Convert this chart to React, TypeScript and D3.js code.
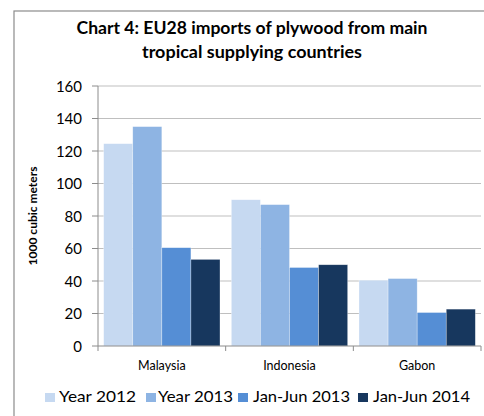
import React from "react";
import * as d3 from "d3";

const categories = ["Malaysia", "Indonesia", "Gabon"];
const seriesNames = ["Year 2012", "Year 2013", "Jan-Jun 2013", "Jan-Jun 2014"];
const year2012 = [124.5, 90, 40.5];
const year2013 = [135, 87, 41.5];
const janJun2013 = [60.5, 48.3, 20.6];
const janJun2014 = [53.3, 50, 22.7];
const yTicks = [0, 20, 40, 60, 80, 100, 120, 140, 160];
const colors = ["#C6D9F1", "#8EB4E3", "#558ED5", "#17375E"];

const seriesValues = [year2012, year2013, janJun2013, janJun2014];

export default function App() {
  const W = 484, H = 416;
  const left = 98, right = 481, top = 86, bottom = 346;
  const font = "Lato, 'Open Sans', sans-serif";

  const x = d3.scaleBand<string>().domain(categories).range([left, right]).paddingInner(0).paddingOuter(0);
  const inner = d3.scaleBand<string>().domain(seriesNames).range([0, x.bandwidth()]).paddingInner(0).paddingOuter(0.195);
  const y = d3.scaleLinear().domain([0, 160]).range([bottom, top]);

  const legendMarkX = [45, 146, 238, 358];
  const legendTextX = [59, 158, 253, 373];
  const legendW = [77, 75, 97, 97];

  return (
    <svg width={W} height={H} style={{ position: "absolute", left: 0, top: 0 }} fontFamily={font}>
      <rect x={0} y={0} width={W} height={H} fill="#fff" />
      <rect x={14} y={11} width={W + 20} height={H + 20} fill="none" stroke="#8c8c8c" strokeWidth={1.2} />
      <text x={252} y={34} textAnchor="middle" fontWeight="bold" fontSize={16.5} textLength={351} lengthAdjust="spacingAndGlyphs" fill="#000">
        Chart 4: EU28 imports of plywood from main
      </text>
      <text x={252} y={58} textAnchor="middle" fontWeight="bold" fontSize={16.5} textLength={220} lengthAdjust="spacingAndGlyphs" fill="#000">
        tropical supplying countries
      </text>
      {yTicks.map((t) => (
        <g key={t}>
          {t > 0 && <line x1={left} x2={right} y1={y(t)} y2={y(t)} stroke="#bfbfbf" strokeWidth={1} />}
          <line x1={92} x2={left} y1={y(t)} y2={y(t)} stroke="#8c8c8c" strokeWidth={1} />
          <text x={82} y={y(t) + 5.5} textAnchor="end" fontSize={15} fill="#000">{t}</text>
        </g>
      ))}
      <text transform={`translate(37,${(top + bottom) / 2}) rotate(-90)`} textAnchor="middle" fontWeight="bold" fontSize={12} fill="#000">
        1000 cubic meters
      </text>
      {categories.map((c, ci) => (
        <g key={c}>
          {seriesNames.map((s, si) => {
            const v = seriesValues[si][ci];
            return (
              <rect key={s} x={(x(c) as number) + (inner(s) as number)} y={y(v)} width={inner.bandwidth()} height={y(0) - y(v)} fill={colors[si]} stroke="#ffffff" strokeOpacity={0.5} strokeWidth={0.6} />
            );
          })}
          <text x={(x(c) as number) + x.bandwidth() / 2} y={370} textAnchor="middle" fontSize={12.5} fill="#000">{c}</text>
        </g>
      ))}
      <line x1={left} x2={left} y1={top} y2={bottom} stroke="#8c8c8c" strokeWidth={1} />
      <line x1={left} x2={right} y1={bottom} y2={bottom} stroke="#8c8c8c" strokeWidth={1} />
      {x.domain().map((c) => (
        <line key={c} x1={(x(c) as number) + x.bandwidth()} x2={(x(c) as number) + x.bandwidth()} y1={bottom} y2={bottom + 5} stroke="#8c8c8c" strokeWidth={1} />
      ))}
      <line x1={left} x2={left} y1={bottom} y2={bottom + 5} stroke="#8c8c8c" strokeWidth={1} />
      {seriesNames.map((s, i) => (
        <g key={s}>
          <rect x={legendMarkX[i]} y={393} width={10} height={9} fill={colors[i]} />
          <text x={legendTextX[i]} y={402} fontSize={15} textLength={legendW[i]} lengthAdjust="spacingAndGlyphs" fill="#000">{s}</text>
        </g>
      ))}
    </svg>
  );
}
